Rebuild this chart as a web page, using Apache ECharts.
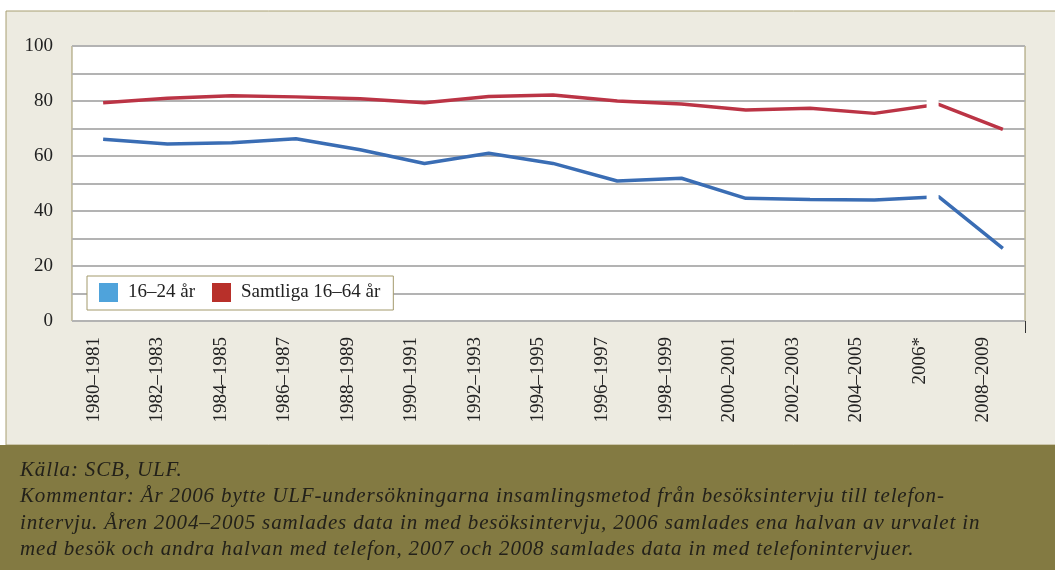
<!DOCTYPE html>
<html>
<head>
<meta charset="utf-8">
<script src="https://cdn.jsdelivr.net/npm/echarts@6/dist/echarts.min.js"></script>
<style>
html,body{margin:0;padding:0;background:#fff;}
#wrap{position:relative;width:1055px;height:570px;}
#c{width:1055px;height:570px;}
#foot{position:absolute;left:20px;top:456px;font:italic 21px "Liberation Serif","DejaVu Serif",serif;letter-spacing:0.85px;line-height:26.3px;color:#23211a;white-space:nowrap;}
</style>
</head>
<body>
<div id="wrap">
<div id="c"></div>
<div id="foot"></div>
</div>
<script>
const categories = ['1980–1981','1982–1983','1984–1985','1986–1987','1988–1989','1990–1991','1992–1993','1994–1995','1996–1997','1998–1999','2000–2001','2002–2003','2004–2005','2006*','2008–2009'];
const youth = [66.1, 64.4, 64.8, 66.3, 62.3, 57.3, 61.0, 57.3, 50.9, 51.9, 44.6, 44.2, 44.0, 45.2, 26.4];
const all = [79.4, 81.0, 81.9, 81.5, 80.8, 79.4, 81.6, 82.2, 80.0, 78.9, 76.7, 77.4, 75.5, 78.8, 69.7];
const seriesNames = ['16–24 år', 'Samtliga 16–64 år'];
const breakIndex = 13;
const sourceText = 'Källa: SCB, ULF.';
const commentLines = [
  'Kommentar: År 2006 bytte ULF-undersökningarna insamlingsmetod från besöksintervju till telefon-',
  'intervju. Åren 2004–2005 samlades data in med besöksintervju, 2006 samlades ena halvan av urvalet in',
  'med besök och andra halvan med telefon, 2007 och 2008 samlades data in med telefonintervjuer.'
];

const foot = document.getElementById('foot');
[sourceText].concat(commentLines).forEach(t=>{ const d=document.createElement('div'); d.textContent=t; foot.appendChild(d); });

function withBreak(arr){
  return arr.map((v,i)=> i===breakIndex ? {value:v, symbol:'rect', symbolSize:12, symbolOffset:[-6,0], itemStyle:{color:'#ffffff', borderWidth:0}} : v);
}

const serif = '"Liberation Serif", "DejaVu Serif", serif';
const chart = echarts.init(document.getElementById('c'), null, {renderer:'canvas'});
chart.setOption({
  backgroundColor:'#ffffff',
  animation:false,
  graphic:[
    {type:'rect', shape:{x:6, y:11, width:1060, height:434}, style:{fill:'#edebe1', stroke:'#a89f72', lineWidth:1}, z:-10},
    {type:'rect', shape:{x:0, y:445, width:1055, height:125}, style:{fill:'#837a42'}, z:-9},
    {type:'line', shape:{x1:1025.5, y1:321, x2:1025.5, y2:333}, style:{stroke:'#333', lineWidth:1}, z:5}
  ],
  grid:[
    {left:72, top:46, right:30, bottom:249, show:true, backgroundColor:'#ffffff', borderColor:'#9e9566', borderWidth:1},
    {left:62, top:46, right:40, bottom:249},
    {left:71, top:46, right:20, bottom:249}
  ],
  legend:{
    left:87, top:276, orient:'horizontal',
    backgroundColor:'#ffffff', borderColor:'#a39a6c', borderWidth:1,
    padding:[7,13,8,12], itemGap:17,
    icon:'rect', itemWidth:19, itemHeight:19,
    textStyle:{fontFamily:serif, fontSize:19, color:'#222', padding:[0,0,0,5]},
    data:[{name:seriesNames[0], itemStyle:{color:'#4fa3db'}},{name:seriesNames[1], itemStyle:{color:'#b8302a'}}]
  },
  xAxis:[
    {gridIndex:0, type:'category', data:categories, show:false},
    {gridIndex:1, type:'category', data:categories, boundaryGap:true,
     axisLine:{show:false}, axisTick:{show:false}, splitLine:{show:false},
     axisLabel:{rotate:90, margin:16, fontFamily:serif, fontSize:19, color:'#222'}},
    {gridIndex:2, type:'category', data:categories, show:false, boundaryGap:true}
  ],
  yAxis:[
    {gridIndex:0, type:'value', min:0, max:100, interval:10,
     axisLine:{show:false}, axisTick:{show:false},
     axisLabel:{margin:19, fontFamily:serif, fontSize:19, color:'#222', formatter:v=> v%20===0 ? String(v) : ''},
     splitLine:{show:true, lineStyle:{color:'#b3b3b3', width:2}}},
    {gridIndex:1, type:'value', min:0, max:100, show:false, splitLine:{show:false}},
    {gridIndex:2, type:'value', min:0, max:100, show:false, splitLine:{show:false}}
  ],
  series:[
    {name:seriesNames[0], type:'line', xAxisIndex:2, yAxisIndex:2, data:withBreak(youth), symbol:'none', lineStyle:{color:'#3a6db4', width:3.5}, itemStyle:{color:'#4fa3db'}, z:3},
    {name:seriesNames[1], type:'line', xAxisIndex:2, yAxisIndex:2, data:withBreak(all), symbol:'none', lineStyle:{color:'#bb3445', width:3.5}, itemStyle:{color:'#b8302a'}, z:3}
  ]
});
</script>
</body>
</html>
